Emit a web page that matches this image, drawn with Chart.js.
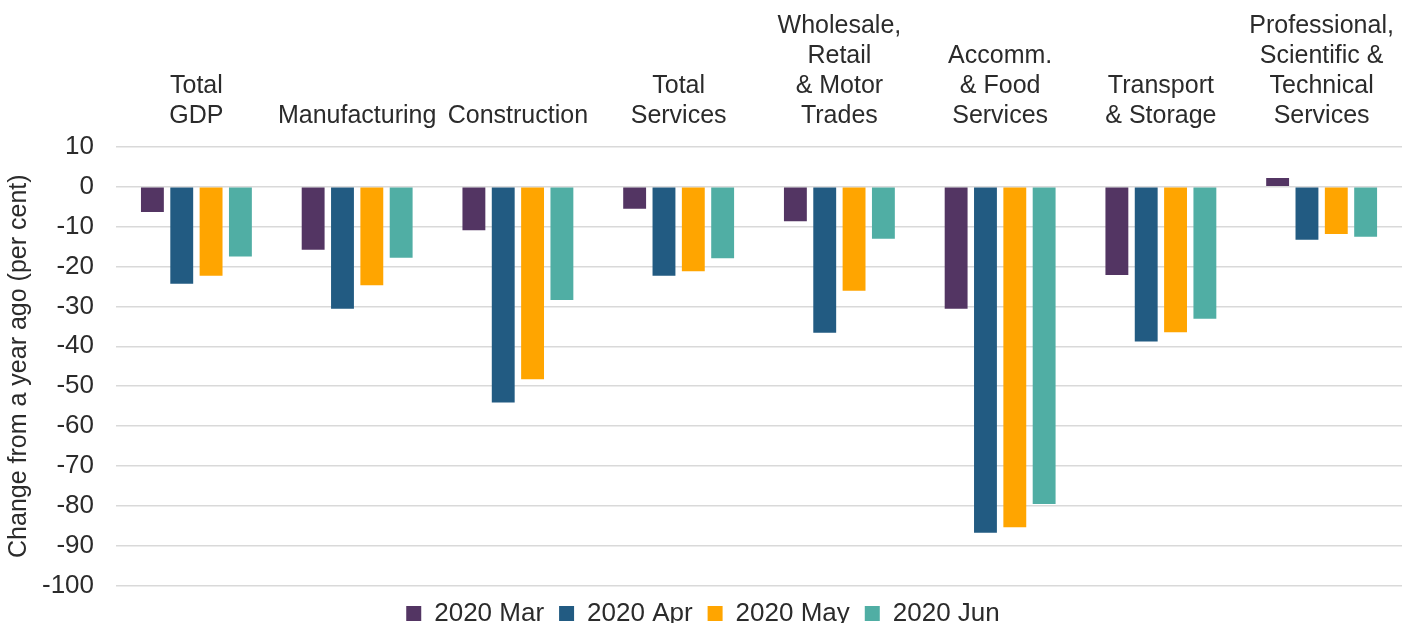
<!DOCTYPE html>
<html>
<head>
<meta charset="utf-8">
<script src="https://cdn.jsdelivr.net/npm/chart.js@4.4.1/dist/chart.umd.min.js"></script>
<style>
    html, body { margin: 0; padding: 0; background: #fff; }
    #wrap { width: 1418px; height: 623px; }
</style>
</head>
<body>
<div id="wrap"><canvas id="chart"></canvas></div>
<script>
const categories = [
    ['Total', 'GDP'],
    'Manufacturing',
    'Construction',
    ['Total', 'Services'],
    ['Wholesale,', 'Retail', '& Motor', 'Trades'],
    ['Accomm.', '& Food', 'Services'],
    ['Transport', '& Storage'],
    ['Professional,', 'Scientific &', 'Technical', 'Services']
];
const mar2020 = [-6.3, -15.8, -10.9, -5.5, -8.6, -30.6, -22.1, 2.2];
const apr2020 = [-24.3, -30.6, -54.1, -22.3, -36.6, -86.8, -38.8, -13.3];
const may2020 = [-22.3, -24.7, -48.3, -21.2, -26.1, -85.4, -36.5, -11.8];
const jun2020 = [-17.5, -17.8, -28.4, -17.9, -13.0, -79.6, -33.1, -12.5];
const seriesNames = ['2020 Mar', '2020 Apr', '2020 May', '2020 Jun'];
const seriesColors = ['#533563', '#225B82', '#FFA500', '#50AEA4'];

const textColor = '#2b2b2b';
const family = 'Liberation Sans, Arial, sans-serif';

const ctx = document.getElementById('chart').getContext('2d');
const chart = new Chart(ctx, {
    type: 'bar',
    data: {
        labels: categories,
        datasets: [mar2020, apr2020, may2020, jun2020].map((vals, i) => ({
            label: seriesNames[i],
            data: vals,
            backgroundColor: seriesColors[i],
            borderWidth: 0,
            categoryPercentage: 0.73,
            barPercentage: 0.78
        }))
    },
    options: {
        responsive: true,
        maintainAspectRatio: false,
        animation: false,
        layout: { padding: { top: 3, right: 16, left: 4, bottom: -14 } },
        scales: {
            x: {
                position: 'top',
                grid: { display: false },
                border: { display: false },
                ticks: {
                    color: textColor,
                    font: { family, size: 25, lineHeight: 1.2 },
                    maxRotation: 0,
                    autoSkip: false,
                    padding: 8
                }
            },
            y: {
                min: -100,
                max: 10,
                grid: { color: '#d9d9d9', lineWidth: 1.5, drawTicks: false },
                border: { display: false },
                ticks: {
                    stepSize: 10,
                    color: textColor,
                    font: { family, size: 26 },
                    padding: 22
                },
                title: {
                    display: true,
                    text: 'Change from a year ago (per cent)',
                    color: textColor,
                    font: { family, size: 25 },
                    padding: { top: 0, bottom: -14 }
                }
            }
        },
        plugins: {
            legend: {
                position: 'bottom',
                labels: {
                    color: textColor,
                    font: { family, size: 26 },
                    boxWidth: 15,
                    boxHeight: 15,
                    padding: 15
                }
            },
            tooltip: { enabled: false }
        }
    }
});
</script>
</body>
</html>
